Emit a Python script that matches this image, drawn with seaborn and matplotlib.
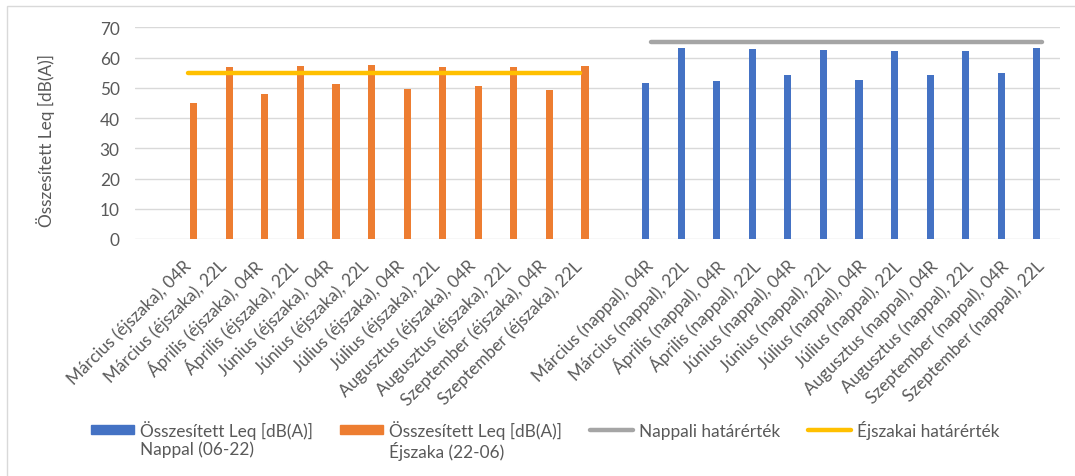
import pandas as pd
import matplotlib.pyplot as plt
import seaborn as sns
from matplotlib.patches import Patch, Rectangle
from matplotlib.lines import Line2D
import matplotlib.transforms as mtransforms

# categories (night measurements, then day measurements)
night_labels = ["Március (éjszaka), 04R", "Március (éjszaka), 22L",
                "Április (éjszaka), 04R", "Április (éjszaka), 22L",
                "Június (éjszaka), 04R", "Június (éjszaka), 22L",
                "Július (éjszaka), 04R", "Július (éjszaka), 22L",
                "Augusztus (éjszaka), 04R", "Augusztus (éjszaka), 22L",
                "Szeptember (éjszaka), 04R", "Szeptember (éjszaka), 22L"]
day_labels = ["Március (nappal), 04R", "Március (nappal), 22L",
              "Április (nappal), 04R", "Április (nappal), 22L",
              "Június (nappal), 04R", "Június (nappal), 22L",
              "Július (nappal), 04R", "Július (nappal), 22L",
              "Augusztus (nappal), 04R", "Augusztus (nappal), 22L",
              "Szeptember (nappal), 04R", "Szeptember (nappal), 22L"]

night_values = [45.0, 56.8, 47.9, 57.1, 51.2, 57.4, 49.6, 56.8, 50.5, 56.8, 49.3, 57.1]
day_values = [51.5, 63.1, 52.4, 62.7, 54.2, 62.4, 52.5, 62.1, 54.2, 62.1, 54.9, 63.0]

night_limit = [55] * 12
day_limit = [65] * 12

series_name = "Összesített Leq [dB(A)]"
day_series = "Nappal (06-22)"
night_series = "Éjszaka (22-06)"
day_limit_name = "Nappali határérték"
night_limit_name = "Éjszakai határérték"

# empty slots before the night group and between the groups
order = [" "] + night_labels + ["  "] + day_labels

df = pd.DataFrame({
    "kategoria": night_labels + day_labels,
    "ertek": night_values + day_values,
    "sorozat": [night_series] * 12 + [day_series] * 12,
})

sns.set_style("white")
plt.rcParams["font.family"] = ["Lato", "DejaVu Sans"]
text_col = "#595959"
fs = 12.4

fig = plt.figure(figsize=(10.75, 4.77), dpi=100)
ax = fig.add_axes([135 / 1075, 1 - 240 / 477, 925 / 1075, (240 - 28.3) / 477])

sns.barplot(data=df, x="kategoria", y="ertek", hue="sorozat", order=order,
            hue_order=[day_series, night_series],
            palette={day_series: "#4472C4", night_series: "#ED7D31"},
            width=0.6, gap=0.33, dodge=True, saturation=1, errorbar=None,
            linewidth=0, legend=False, ax=ax)

night_pos = [order.index(c) for c in night_labels]
day_pos = [order.index(c) for c in day_labels]
sns.lineplot(x=night_pos, y=night_limit, color="#FFC000", lw=3.2,
             solid_capstyle="round", ax=ax)
sns.lineplot(x=day_pos, y=day_limit, color="#A5A5A5", lw=3.2,
             solid_capstyle="round", ax=ax)

ax.set_xlim(-0.5, len(order) - 0.5)
ax.set_ylim(0, 70)
ax.set_yticks(range(0, 71, 10))
ax.set_xticks(range(len(order)))
ax.set_xticklabels(order, rotation=45, ha="right", va="center",
                   rotation_mode="anchor", color=text_col, fontsize=fs)
offset = mtransforms.ScaledTranslation(5 / 100, 0, fig.dpi_scale_trans)
for lab in ax.get_xticklabels():
    lab.set_transform(lab.get_transform() + offset)
ax.tick_params(axis="x", length=0, pad=17)
ax.tick_params(axis="y", length=0, pad=11, labelcolor=text_col, labelsize=fs)
ax.yaxis.grid(True, color="#D9D9D9", lw=1)
ax.set_axisbelow(True)
for s in ax.spines.values():
    s.set_visible(False)

ax.set_xlabel("")
ax.set_ylabel(series_name, color=text_col, fontsize=fs)
ax.yaxis.set_label_coords((46 - 135) / 925, 0.47)
ax.yaxis.label.set_va("center")

handles = [Patch(color="#4472C4"), Patch(color="#ED7D31"),
           Line2D([], [], color="#A5A5A5", lw=3.2, solid_capstyle="round"),
           Line2D([], [], color="#FFC000", lw=3.2, solid_capstyle="round")]
leg = fig.legend(handles, [series_name, series_name, day_limit_name, night_limit_name],
                 loc="upper left", bbox_to_anchor=(82 / 1075, 1 - 412 / 477), ncol=4,
                 frameon=False, fontsize=fs, labelcolor=text_col, handlelength=2.5,
                 handleheight=0.4, handletextpad=0.35, columnspacing=1.6, borderpad=0)

# second line of the two bar series labels, under the legend text
fig.canvas.draw()
renderer = fig.canvas.get_renderer()
for txt, second in zip(leg.get_texts()[:2], [day_series, night_series]):
    bb = txt.get_window_extent(renderer)
    fig.text(bb.x0, bb.y0 - 2, second, transform=mtransforms.IdentityTransform(),
             ha="left", va="top", fontsize=fs, color=text_col)

fig.add_artist(Rectangle((7 / 1075, -0.1), 1.2, 1.1 - 7 / 477, transform=fig.transFigure,
                         fill=False, edgecolor="#D9D9D9", lw=1))

fig.savefig("out.png", dpi=100)
